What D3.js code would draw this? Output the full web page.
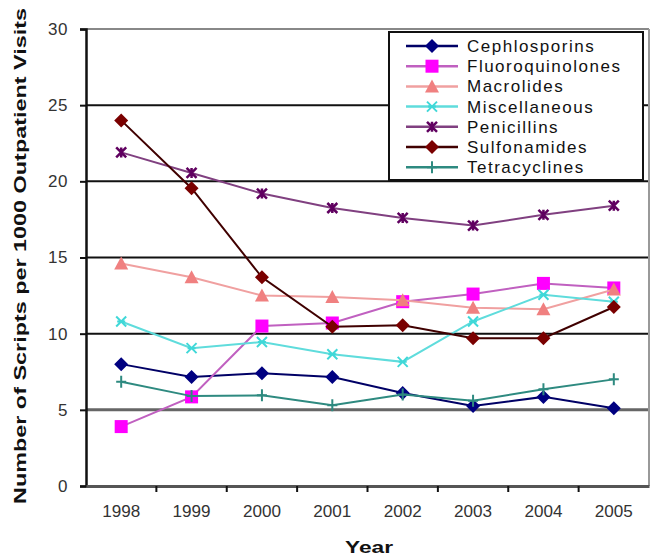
<!DOCTYPE html>
<html>
<head>
<meta charset="utf-8">
<script src="https://cdn.jsdelivr.net/npm/d3@7"></script>
<style>
  body { margin: 0; background: #fff; }
  text { font-family: Arial, "Liberation Sans", sans-serif; }
</style>
</head>
<body>
<svg id="chart" width="655" height="560"></svg>
<script>
// data
const years = ["1998", "1999", "2000", "2001", "2002", "2003", "2004", "2005"];
const cephlosporins = [8.0, 7.15, 7.4, 7.15, 6.1, 5.25, 5.85, 5.1];
const fluoroquinolones = [3.9, 5.85, 10.5, 10.7, 12.1, 12.6, 13.3, 13.0];
const macrolides = [14.6, 13.7, 12.5, 12.4, 12.2, 11.7, 11.6, 12.9];
const miscellaneous = [10.8, 9.05, 9.45, 8.65, 8.15, 10.8, 12.55, 12.1];
const penicillins = [21.9, 20.55, 19.2, 18.25, 17.6, 17.1, 17.8, 18.4];
const sulfonamides = [24.0, 19.55, 13.7, 10.45, 10.55, 9.7, 9.7, 11.75];
const tetracyclines = [6.85, 5.9, 5.95, 5.3, 6.0, 5.6, 6.35, 7.0];
const yTicks = [0, 5, 10, 15, 20, 25, 30];

const series = [
  { name: "Cephlosporins", values: cephlosporins, line: "#000066", fill: "#000080", shape: "diamond" },
  { name: "Fluoroquinolones", values: fluoroquinolones, line: "#c060c0", fill: "#ff00ff", shape: "square" },
  { name: "Macrolides", values: macrolides, line: "#f0a0a0", fill: "#f08080", shape: "triangle" },
  { name: "Miscellaneous", values: miscellaneous, line: "#5fdcdc", fill: "#40d8d8", shape: "x" },
  { name: "Penicillins", values: penicillins, line: "#804080", fill: "#600060", shape: "star" },
  { name: "Sulfonamides", values: sulfonamides, line: "#400000", fill: "#7a0000", shape: "diamond" },
  { name: "Tetracyclines", values: tetracyclines, line: "#2e8a80", fill: "#2e8a80", shape: "plus" }
];

const margin = { top: 29, right: 4, bottom: 74, left: 86 };
const width = 655, height = 560;
const svg = d3.select("#chart");

const x = d3.scaleBand().domain(years).range([margin.left, width - margin.right - 2]);
const y = d3.scaleLinear().domain([0, 30]).range([height - margin.bottom, margin.top]);

// gridlines
svg.append("g").selectAll("line")
  .data(yTicks.filter(d => d > 0))
  .enter().append("line")
  .attr("x1", margin.left).attr("x2", width - margin.right - 2)
  .attr("y1", d => y(d)).attr("y2", d => y(d))
  .attr("stroke", d => d === 30 ? "#888" : (d === 5 ? "#666" : "#111"))
  .attr("stroke-width", d => d === 5 ? 3 : 2);

// right border
svg.append("line")
  .attr("x1", width - margin.right - 2).attr("x2", width - margin.right - 2)
  .attr("y1", y(30)).attr("y2", y(0))
  .attr("stroke", "#999").attr("stroke-width", 2);

// y axis
const yAxis = svg.append("g")
  .attr("transform", `translate(${margin.left},0)`)
  .call(d3.axisLeft(y).tickValues(yTicks).tickSize(6).tickPadding(12));
yAxis.select(".domain").attr("stroke", "#111").attr("stroke-width", 2.5);
yAxis.selectAll(".tick line").attr("stroke", "#111").attr("stroke-width", 2);
yAxis.selectAll(".tick text").attr("font-size", 17).attr("fill", "#333")
  .attr("letter-spacing", 0.5);

// x axis
const xAxis = svg.append("g")
  .attr("transform", `translate(0,${y(0)})`)
  .call(d3.axisBottom(x).tickSize(0).tickPadding(19));
xAxis.select(".domain").attr("stroke", "#555").attr("stroke-width", 3);
xAxis.selectAll(".tick text").attr("font-size", 17).attr("fill", "#333")
  .attr("textLength", 38).attr("lengthAdjust", "spacingAndGlyphs");
// category boundary ticks
svg.append("g").selectAll("line")
  .data(years.slice(1))
  .enter().append("line")
  .attr("x1", d => x(d)).attr("x2", d => x(d))
  .attr("y1", y(0)).attr("y2", y(0) + 6)
  .attr("stroke", "#111").attr("stroke-width", 2);

// axis titles
svg.append("text")
  .attr("transform", "translate(26,256) rotate(-90)")
  .attr("text-anchor", "middle")
  .attr("font-size", 17).attr("font-weight", "bold").attr("fill", "#111")
  .attr("textLength", 496).attr("lengthAdjust", "spacingAndGlyphs")
  .text("Number of Scripts per 1000 Outpatient Visits");

svg.append("text")
  .attr("x", 369)
  .attr("y", 553)
  .attr("text-anchor", "middle")
  .attr("font-size", 17).attr("font-weight", "bold").attr("fill", "#111")
  .attr("textLength", 48).attr("lengthAdjust", "spacingAndGlyphs")
  .text("Year");

// marker drawing
function drawMarker(g, s, cx, cy) {
  if (s.shape === "diamond") {
    g.append("path").attr("d", `M${cx},${cy - 7}L${cx + 7},${cy}L${cx},${cy + 7}L${cx - 7},${cy}Z`)
      .attr("fill", s.fill);
  } else if (s.shape === "square") {
    g.append("rect").attr("x", cx - 6.5).attr("y", cy - 6.5)
      .attr("width", 13).attr("height", 13).attr("fill", s.fill);
  } else if (s.shape === "triangle") {
    g.append("path").attr("d", `M${cx},${cy - 7}L${cx + 7},${cy + 6}L${cx - 7},${cy + 6}Z`)
      .attr("fill", s.fill);
  } else if (s.shape === "x") {
    g.append("path")
      .attr("d", `M${cx - 5},${cy - 5}L${cx + 5},${cy + 5}M${cx - 5},${cy + 5}L${cx + 5},${cy - 5}M${cx - 4},${cy}L${cx + 4},${cy}`)
      .attr("fill", "none").attr("stroke", s.fill).attr("stroke-width", 2);
  } else if (s.shape === "star") {
    g.append("path")
      .attr("d", `M${cx - 5},${cy - 5}L${cx + 5},${cy + 5}M${cx - 5},${cy + 5}L${cx + 5},${cy - 5}M${cx},${cy - 5}L${cx},${cy + 5}`)
      .attr("fill", "none").attr("stroke", s.fill).attr("stroke-width", 2.5);
  } else if (s.shape === "plus") {
    g.append("path")
      .attr("d", `M${cx - 5},${cy}L${cx + 5},${cy}M${cx},${cy - 6}L${cx},${cy + 6}`)
      .attr("fill", "none").attr("stroke", s.fill).attr("stroke-width", 2);
  }
}

const line = d3.line()
  .x((d, i) => x(years[i]) + x.bandwidth() / 2)
  .y(d => y(d));

const plot = svg.append("g");
series.forEach(s => {
  const g = plot.append("g");
  g.append("path").datum(s.values)
    .attr("d", line)
    .attr("fill", "none")
    .attr("stroke", s.line)
    .attr("stroke-width", 2);
  s.values.forEach((v, i) => drawMarker(g, s, x(years[i]) + x.bandwidth() / 2, y(v)));
});

// legend
const legend = svg.append("g");
legend.append("rect")
  .attr("x", 389).attr("y", 32).attr("width", 254).attr("height", 148)
  .attr("fill", "#fff").attr("stroke", "#111").attr("stroke-width", 2);
legend.append("line")
  .attr("x1", 390).attr("x2", 643).attr("y1", 181).attr("y2", 181)
  .attr("stroke", "#111").attr("stroke-width", 2);

series.forEach((s, i) => {
  const ly = 46 + i * 20.2;
  const g = legend.append("g");
  g.append("line").attr("x1", 406).attr("x2", 458).attr("y1", ly).attr("y2", ly)
    .attr("stroke", s.line).attr("stroke-width", 2.5);
  drawMarker(g, s, 432, ly);
  g.append("text").attr("x", 467).attr("y", ly + 6)
    .attr("font-size", 17).attr("fill", "#111")
    .attr("letter-spacing", 1.5)
    .text(s.name);
});
</script>
</body>
</html>
